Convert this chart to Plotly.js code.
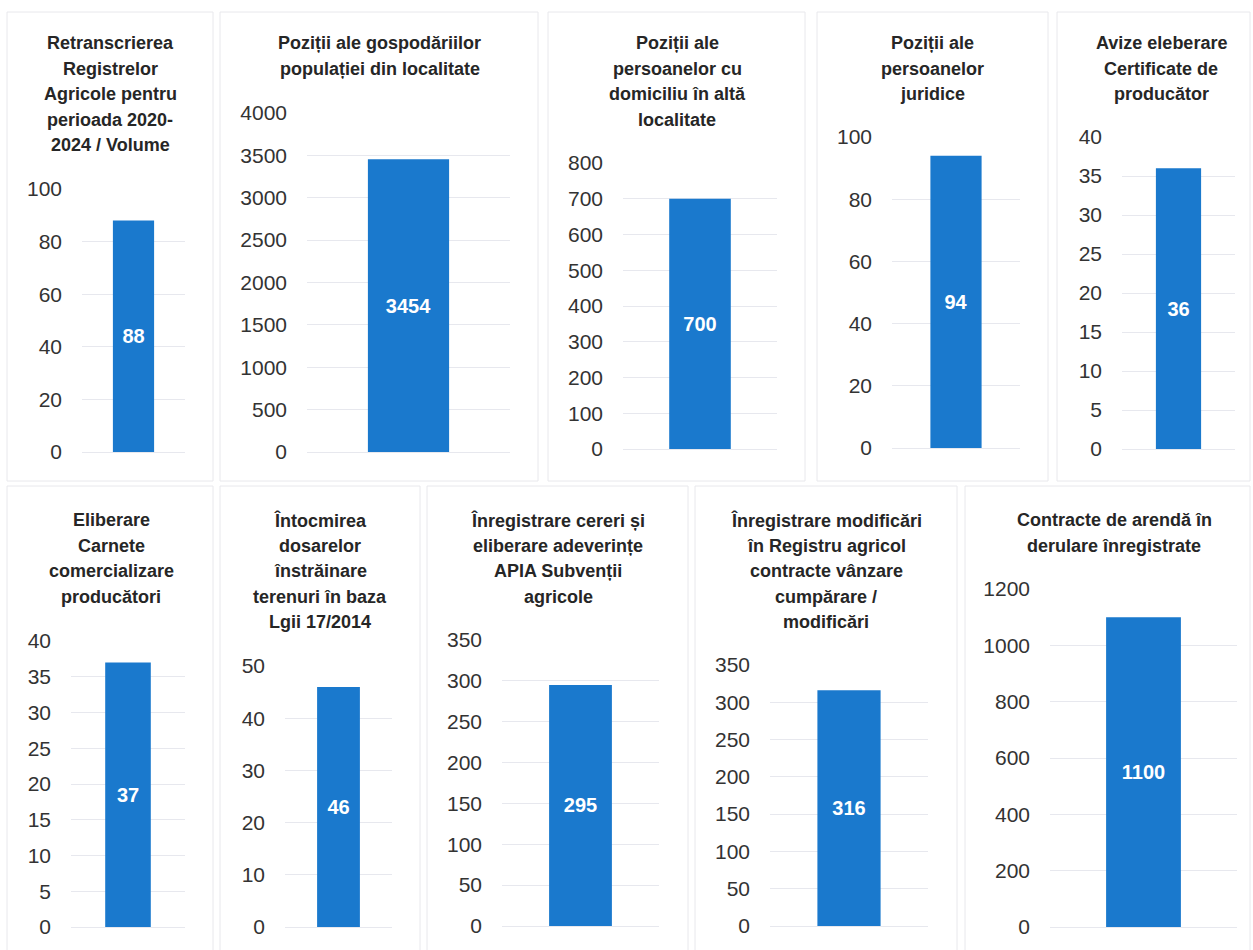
<!DOCTYPE html>
<html>
<head>
<meta charset="utf-8">
<script src="https://cdn.plot.ly/plotly-3.0.1.min.js"></script>
<style>html,body{margin:0;padding:0;background:#fff;}#chart{width:1253px;height:950px;}</style>
</head>
<body>
<div id="chart"></div>
<script>
// ---- data ----
const titles = [
  "Retranscrierea<br>Registrelor<br>Agricole pentru<br>perioada 2020-<br>2024 / Volume",
  "Poziții ale gospodăriilor<br>populației din localitate",
  "Poziții ale<br>persoanelor cu<br>domiciliu în altă<br>localitate",
  "Poziții ale<br>persoanelor<br>juridice",
  "Avize eleberare<br>Certificate de<br>producător",
  "Eliberare<br>Carnete<br>comercializare<br>producători",
  "Întocmirea<br>dosarelor<br>înstrăinare<br>terenuri în baza<br>Lgii 17/2014",
  "Înregistrare cereri și<br>eliberare adeverințe<br>APIA Subvenții<br>agricole",
  "Înregistrare modificări<br>în Registru agricol<br>contracte vânzare<br>cumpărare /<br>modificări",
  "Contracte de arendă în<br>derulare înregistrate"
];
const values = [88, 3454, 700, 94, 36, 37, 46, 295, 316, 1100];
const axisMax = [100, 4000, 800, 100, 40, 40, 50, 350, 350, 1200];
const axisStep = [20, 500, 100, 20, 5, 5, 10, 50, 50, 200];

// ---- layout geometry (pixels) ----
const W = 1253, H = 950;
const plotX = [[82,185],[307,510],[623,777],[892,1020],[1122,1235],[71,185],[285,392],[502,659],[770,928],[1050,1237]];
const plotY = [[189,452],[113,452],[163,449],[137,448],[137,449],[641,927],[666,927],[640,926],[665,926],[589,927]];
const titleCx = [110,380,677,933,1161,111,320,558,826,1114];
const titleTop = [43,43,43,43,43,520,520,520,520,520];
const lineGap = 25.5;
const panels = [
  [7,12,213,481],[220,12,538,481],[548,12,805,481],[817,12,1048,481],[1057,12,1250,481],
  [7,486,213,960],[220,486,420,960],[427,486,688,960],[695,486,957,960],[965,486,1250,960]
];

const FONT = 'Liberation Sans, Arial, sans-serif';
const BAR = '#1a79cd';
const GRID = '#e7e8ee';

const data = [];
const layout = {
  width: W, height: H,
  margin: {l:0, r:0, t:0, b:0},
  paper_bgcolor: '#ffffff', plot_bgcolor: '#ffffff',
  showlegend: false,
  bargap: 0.6,
  font: {family: FONT, color: '#262626'},
  annotations: [], shapes: []
};

values.forEach((v, i) => {
  const n = i + 1;
  const xa = 'x' + (n === 1 ? '' : n), ya = 'y' + (n === 1 ? '' : n);
  data.push({
    type: 'bar', x: ['a'], y: [v], xaxis: xa, yaxis: ya,
    marker: {color: BAR},
    text: [String(v)], textposition: 'inside', insidetextanchor: 'middle',
    textangle: 0, constraintext: 'none',
    textfont: {family: FONT, size: 20, color: '#ffffff', weight: 'bold'},
    hoverinfo: 'skip'
  });
  const xk = 'xaxis' + (n === 1 ? '' : n), yk = 'yaxis' + (n === 1 ? '' : n);
  layout[xk] = {
    domain: [plotX[i][0] / W, plotX[i][1] / W],
    anchor: ya, type: 'category', range: [-0.5, 0.5],
    showticklabels: false, showgrid: false, zeroline: false, showline: false, ticks: '',
    fixedrange: true
  };
  layout[yk] = {
    domain: [1 - plotY[i][1] / H, 1 - plotY[i][0] / H],
    anchor: xa, range: [0, axisMax[i]], dtick: axisStep[i], tick0: 0,
    showgrid: true, gridcolor: GRID, gridwidth: 1,
    zeroline: true, zerolinecolor: GRID, zerolinewidth: 1,
    showline: false, ticks: '', ticklabelstandoff: 19,
    tickfont: {family: FONT, size: 21, color: '#333333'},
    fixedrange: true
  };
  const lines = titles[i].split('<br>');
  lines.forEach((ln, k) => {
    layout.annotations.push({
      text: ln, xref: 'paper', yref: 'paper',
      x: titleCx[i] / W, y: 1 - (titleTop[i] + k * lineGap) / H,
      xanchor: 'center', yanchor: 'middle', showarrow: false,
      font: {family: FONT, size: 18, color: '#262626', weight: 'bold'}
    });
  });
  const p = panels[i];
  layout.shapes.push({
    type: 'rect', xref: 'paper', yref: 'paper',
    x0: p[0] / W, x1: p[2] / W, y0: 1 - p[3] / H, y1: 1 - p[1] / H,
    line: {color: '#e8e8ec', width: 1}, fillcolor: 'rgba(0,0,0,0)', layer: 'below'
  });
});

Plotly.newPlot('chart', data, layout, {displayModeBar: false, staticPlot: true});
</script>
</body>
</html>
